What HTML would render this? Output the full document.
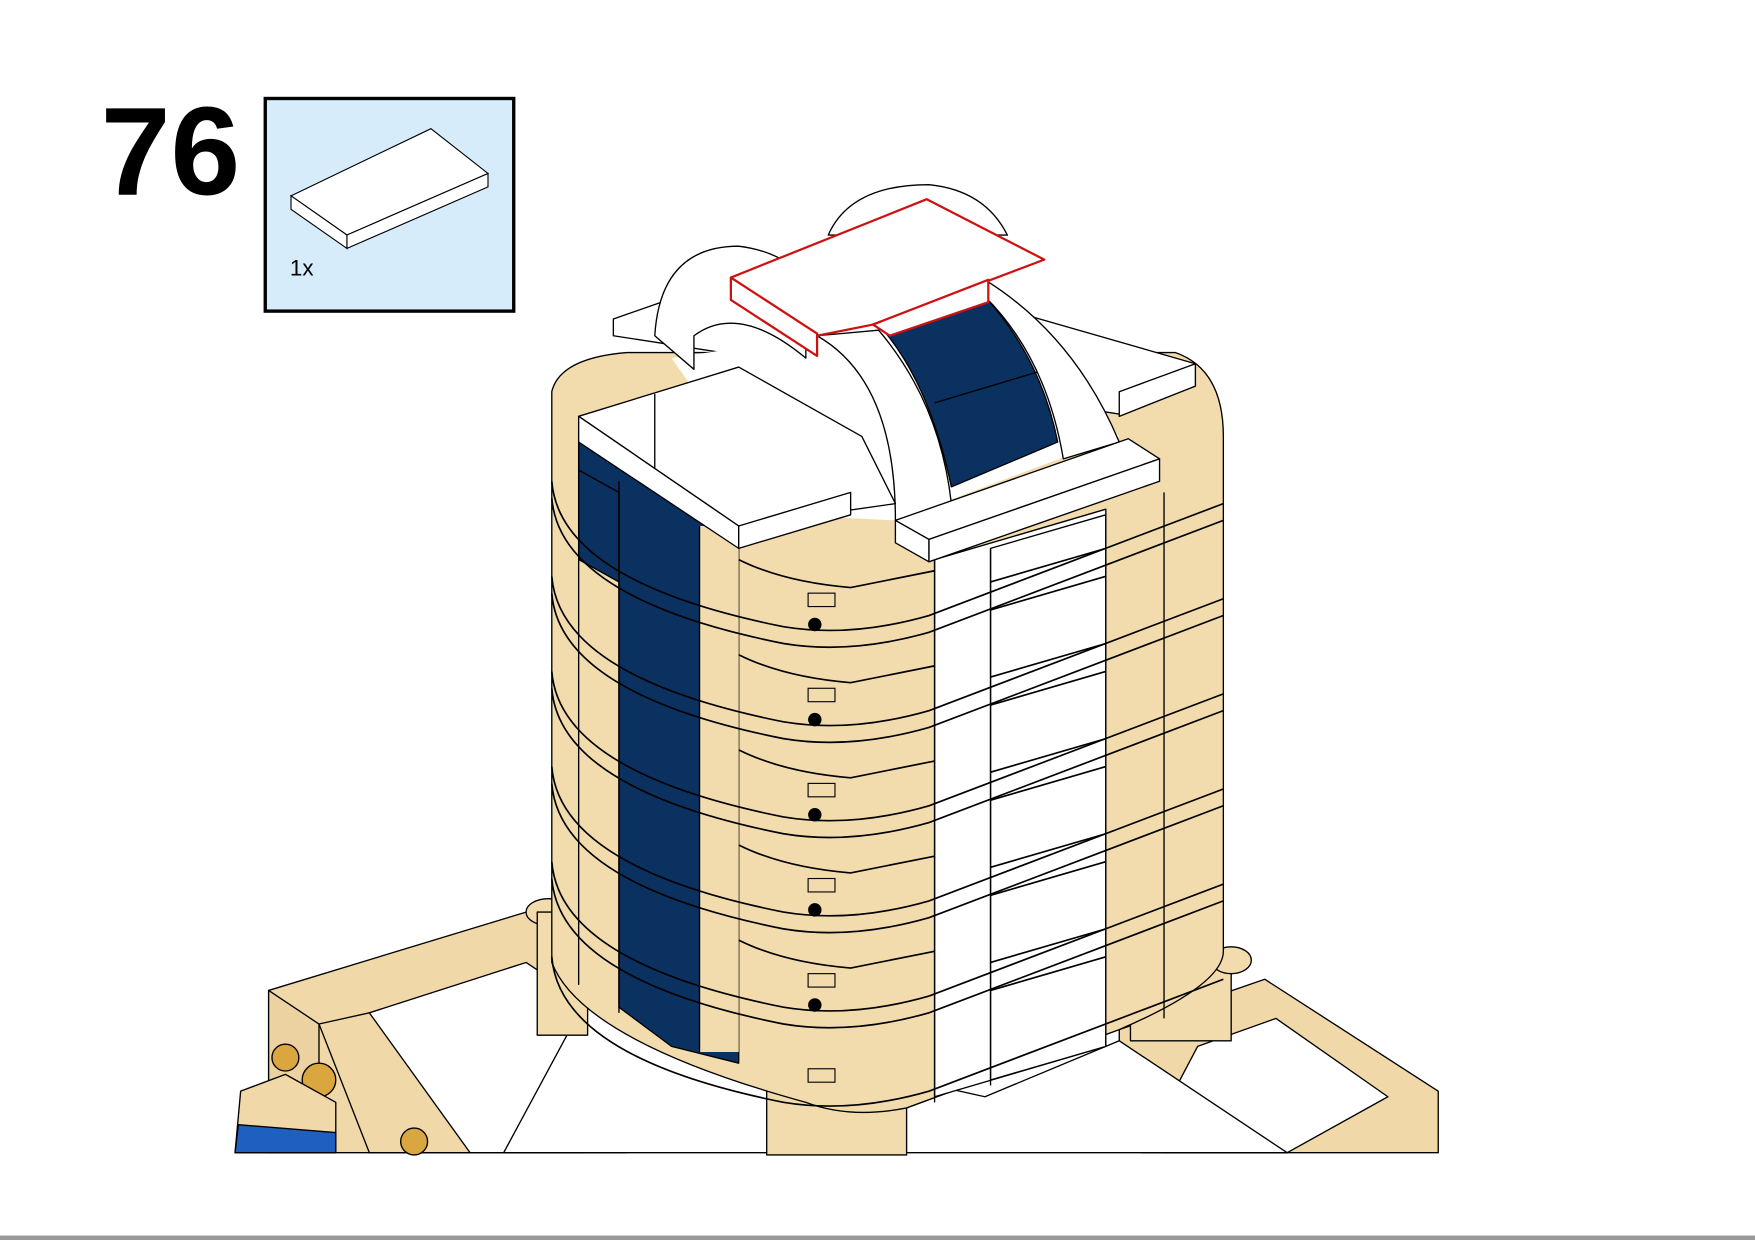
<!DOCTYPE html>
<html><head><meta charset="utf-8"><style>
html,body{margin:0;padding:0;background:#fff;}
svg{display:block;}
</style></head><body>
<svg width="1755" height="1240" viewBox="0 0 1568 1108" preserveAspectRatio="none" xmlns="http://www.w3.org/2000/svg">
<rect x="0" y="0" width="1568" height="1108" fill="#fff"/>
<rect x="0" y="1104" width="1568" height="4" fill="#999"/>
<text x="90" y="174" font-family="Liberation Sans, sans-serif" font-weight="bold" font-size="112">76</text>
<rect x="237" y="88" width="222" height="190" fill="#d7ecfb" stroke="#000" stroke-width="3"/>
<polygon points="260,175 385,115 436,155 310,210" fill="#fff" stroke="#000" stroke-width="1"/>
<polygon points="260,175 310,210 310,222 260,187" fill="#fff" stroke="#000" stroke-width="1"/>
<polygon points="310,210 436,155 436,167 310,222" fill="#fff" stroke="#000" stroke-width="1"/>
<text x="259" y="246" font-family="Liberation Sans, sans-serif" font-size="20">1x</text>

<g stroke="#000" stroke-width="1.2" stroke-linejoin="round">
<polygon points="240,885 470,815 520,855 520,1030 240,1030" fill="#f0d8a8"/>
<polygon points="330,905 470,860 560,920 560,1030 420,1030 330,965" fill="#fff"/>
<polygon points="240,885 285,915 285,1030 240,1030" fill="#ecd2a0"/>
<polygon points="285,915 330,905 420,1030 330,1030" fill="#f0d8a8"/>
<circle cx="255" cy="945" r="12" fill="#d9a640"/><circle cx="285" cy="965" r="15" fill="#d9a640"/>
<circle cx="370" cy="1020" r="12" fill="#d9a640"/>
<polygon points="215,975 255,960 300,985 300,1030 210,1030" fill="#f0d8a8"/>
<polygon points="213,1005 300,1012 300,1030 210,1030" fill="#1f5fc0"/>
<polygon points="1000,920 1130,875 1285,975 1285,1030 1040,1030 1000,990" fill="#f0d8a8"/>
<polygon points="1070,935 1140,910 1240,980 1150,1030 1020,1030" fill="#fff"/>
<polygon points="520,900 880,980 1000,930 1150,1030 450,1030" fill="#fff"/>
<rect x="685" y="960" width="125" height="72" fill="#f2dcae"/>
<ellipse cx="490" cy="815" rx="20" ry="12" fill="#f2dcae"/>
<rect x="480" y="815" width="45" height="110" fill="#f2dcae"/>
<rect x="1010" y="850" width="90" height="80" fill="#f2dcae"/>
<ellipse cx="1100" cy="858" rx="18" ry="12" fill="#f2dcae"/>

<path d="M493,350 Q500,320 560,315 L1050,315 Q1093,330 1093,390 L1093,850 Q1093,880 1000,920 L810,990 Q760,1000 720,985 Q520,930 493,860 Z" fill="#f2dcae"/>
<polygon points="835,500 988,455 988,935 835,980" fill="#fff"/>
<polygon points="885,490 988,460 988,935 885,965" fill="#fff"/>
<polygon points="517,390 660,470 660,950 600,935 553,900 553,440 517,420" fill="#0b3160"/>
<polygon points="517,420 553,440 553,520 517,500" fill="#0b3160"/>
<rect x="625" y="470" width="35" height="470" fill="#f2dcae" stroke="none"/>
<line x1="625" y1="470" x2="625" y2="940"/>
<line x1="553" y1="430" x2="553" y2="905"/>
<line x1="835" y1="495" x2="835" y2="985"/>
<line x1="885" y1="490" x2="885" y2="970"/>
<line x1="988" y1="460" x2="988" y2="935"/>
<line x1="1040" y1="440" x2="1040" y2="910"/>
<line x1="517" y1="380" x2="517" y2="880"/>
</g>
<g stroke="#000" stroke-width="1.5" fill="none">
<path d="M493,430 Q500,520 700,560 Q760,570 830,550 L1093,450"/>
<path d="M493,445 Q500,535 700,575 Q760,585 830,565 L1093,465"/>
<path d="M493,515 Q500,605 700,645 Q760,655 830,635 L1093,535"/>
<path d="M493,530 Q500,620 700,660 Q760,670 830,650 L1093,550"/>
<path d="M493,600 Q500,690 700,730 Q760,740 830,720 L1093,620"/>
<path d="M493,615 Q500,705 700,745 Q760,755 830,735 L1093,635"/>
<path d="M493,685 Q500,775 700,815 Q760,825 830,805 L1093,705"/>
<path d="M493,700 Q500,790 700,830 Q760,840 830,820 L1093,720"/>
<path d="M493,770 Q500,860 700,900 Q760,910 830,890 L1093,790"/>
<path d="M493,785 Q500,875 700,915 Q760,925 830,905 L1093,805"/>
<path d="M493,855 Q500,945 700,985 Q760,995 830,975 L1093,875"/>
<path d="M660,500 Q700,520 760,525 L835,510"/>
<path d="M660,585 Q700,605 760,610 L835,595 M660,670 Q700,690 760,695 L835,680 M660,755 Q700,775 760,780 L835,765 M660,840 Q700,860 760,865 L835,850"/>
<path d="M885,520 L988,490 M885,545 L988,515 M885,605 L988,575 M885,630 L988,600 M885,690 L988,660 M885,715 L988,685 M885,775 L988,745 M885,800 L988,770 M885,860 L988,830 M885,885 L988,855"/>
</g>
<g fill="#000">
<circle cx="728" cy="558" r="6"/><circle cx="728" cy="643" r="6"/><circle cx="728" cy="728" r="6"/><circle cx="728" cy="813" r="6"/><circle cx="728" cy="898" r="6"/>
</g>
<g fill="#f2dcae" stroke="#000" stroke-width="1">
<rect x="722" y="530" width="24" height="12"/><rect x="722" y="615" width="24" height="12"/><rect x="722" y="700" width="24" height="12"/><rect x="722" y="785" width="24" height="12"/><rect x="722" y="870" width="24" height="12"/><rect x="722" y="955" width="24" height="12"/>
</g>

<g stroke="#000" stroke-width="1.2" stroke-linejoin="round">
<polygon points="548,285 720,225 1068,325 1068,345 1000,370 548,300" fill="#fff"/>
<polygon points="1000,350 1068,325 1068,345 1000,372" fill="#fff"/>
<polygon points="600,320 730,300 880,260 1000,390 800,465 700,460" fill="#fff" stroke="none"/>
<path d="M585,300 Q590,220 660,220 Q700,225 720,250 L720,320 Q660,270 620,300 L620,330 Z" fill="#fff"/>
<path d="M740,210 Q760,165 830,165 Q880,170 900,210 Z" fill="#fff"/>
<path d="M785,290 L880,265 Q930,320 945,395 L850,435 Q830,340 785,290 Z" fill="#0b3160"/>
<line x1="835" y1="360" x2="935" y2="330"/>
<path d="M730,300 Q800,340 800,465 L850,450 Q840,360 785,295 Z" fill="#fff"/>
<path d="M880,250 Q960,300 1000,395 L950,410 Q935,320 880,265 Z" fill="#fff"/>
<polygon points="653,248 828,178 933,232 780,290 730,300" fill="#fff" stroke="#d01010" stroke-width="2"/>
<polygon points="653,248 730,298 730,318 653,268" fill="#fff" stroke="#d01010" stroke-width="2"/>
<polygon points="780,290 883,250 883,270 795,300" fill="#fff" stroke="#d01010" stroke-width="2"/>
<polygon points="517,372 660,328 770,390 800,450 660,470 517,372" fill="#fff"/>
<line x1="585" y1="352" x2="585" y2="418"/>
<polygon points="517,372 660,470 660,490 517,395" fill="#fff"/>
<polygon points="660,470 760,440 760,460 660,490" fill="#fff"/>
<polygon points="800,465 1008,392 1036,410 830,482" fill="#fff"/>
<polygon points="800,465 830,482 830,502 800,485" fill="#fff"/>
<polygon points="830,482 1036,410 1036,430 830,502" fill="#fff"/>
</g>
</svg>
</body></html>
